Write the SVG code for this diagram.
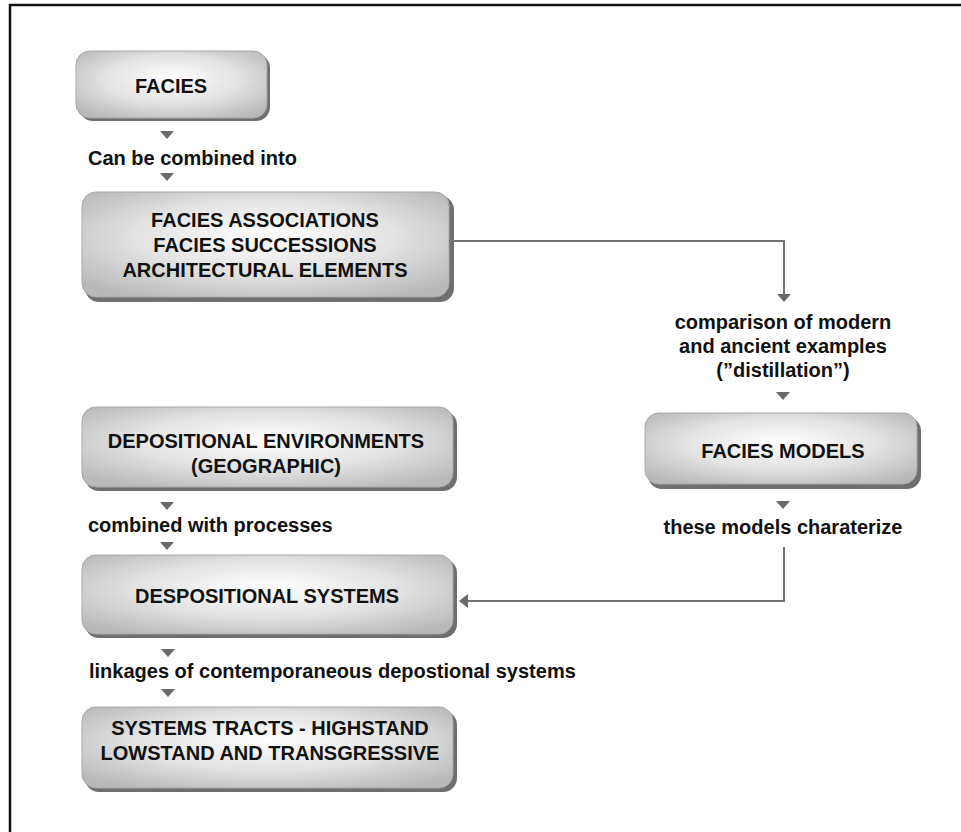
<svg xmlns="http://www.w3.org/2000/svg" width="961" height="832" viewBox="0 0 961 832">
<defs>
<radialGradient id="g" cx="50%" cy="45%" r="65%" fx="50%" fy="40%">
<stop offset="0" stop-color="#ffffff"/>
<stop offset="0.55" stop-color="#e2e2e2"/>
<stop offset="1" stop-color="#b9b9b9"/>
</radialGradient>
</defs>
<style>
.sh{fill:#6f6f6f}
.bx{fill:url(#g);stroke:#a8a8a8;stroke-width:1}
.t{font-family:"Liberation Sans",Arial,sans-serif;font-weight:bold;font-size:20px;fill:#111;text-anchor:middle}
.l{font-family:"Liberation Sans",Arial,sans-serif;font-weight:bold;font-size:20px;fill:#111}
.tri{fill:#6a6a6a}
.c{fill:none;stroke:#737373;stroke-width:2}
</style>
<rect width="961" height="832" fill="#fff"/>
<path d="M10,832 V5 H961" fill="none" stroke="#111" stroke-width="2.5"/>

<g id="n-facies">
<rect class="sh" x="79" y="54" width="191" height="67" rx="14"/>
<rect class="bx" x="76" y="51" width="191" height="67" rx="14"/>
<text class="t" x="171" y="93">FACIES</text>
</g>

<g id="n-associations">
<rect class="sh" x="85" y="196" width="369" height="106" rx="14"/>
<rect class="bx" x="82" y="192" width="367" height="105" rx="14"/>
<text class="t" x="265" y="227">FACIES ASSOCIATIONS</text>
<text class="t" x="265" y="252">FACIES SUCCESSIONS</text>
<text class="t" x="265" y="277">ARCHITECTURAL ELEMENTS</text>
</g>

<g id="n-models">
<rect class="sh" x="648" y="417" width="273" height="72" rx="14"/>
<rect class="bx" x="645" y="413" width="272" height="71" rx="14"/>
<text class="t" x="783" y="458">FACIES MODELS</text>
</g>

<g id="n-environments">
<rect class="sh" x="85" y="411" width="372" height="80" rx="14"/>
<rect class="bx" x="82" y="407" width="371" height="80" rx="14"/>
<text class="t" x="266" y="448">DEPOSITIONAL ENVIRONMENTS</text>
<text class="t" x="266" y="473">(GEOGRAPHIC)</text>
</g>

<g id="n-systems">
<rect class="sh" x="85" y="559" width="372" height="79" rx="14"/>
<rect class="bx" x="82" y="555" width="371" height="79" rx="14"/>
<text class="t" x="267" y="603">DESPOSITIONAL SYSTEMS</text>
</g>

<g id="n-tracts">
<rect class="sh" x="85" y="711" width="372" height="81" rx="14"/>
<rect class="bx" x="82" y="707" width="371" height="81" rx="14"/>
<text class="t" x="270" y="735">SYSTEMS TRACTS - HIGHSTAND</text>
<text class="t" x="270" y="760">LOWSTAND AND TRANSGRESSIVE</text>
</g>

<g id="connectors">
<path class="tri" d="M160,131 L174,131 L167,139 Z"/>
<text class="l" x="88" y="165">Can be combined into</text>
<path class="tri" d="M160,173 L174,173 L167,181 Z"/>

<path class="c" d="M449,241 H784 V294"/>
<path class="tri" d="M777,294 L791,294 L784,302 Z"/>
<text class="t" x="783" y="329">comparison of modern</text>
<text class="t" x="783" y="353">and ancient examples</text>
<text class="t" x="783" y="377">(”distillation”)</text>
<path class="tri" d="M776,392 L790,392 L783,400 Z"/>

<path class="tri" d="M776,501 L790,501 L783,509 Z"/>
<text class="t" x="783" y="534">these models charaterize</text>
<path class="c" d="M784,547 V601 H467"/>
<path class="tri" d="M459,601 L468,594 L468,608 Z"/>

<path class="tri" d="M160,502 L174,502 L167,510 Z"/>
<text class="l" x="88" y="532">combined with processes</text>
<path class="tri" d="M160,542 L174,542 L167,550 Z"/>

<path class="tri" d="M161,649 L175,649 L168,657 Z"/>
<text class="l" x="89" y="678">linkages of contemporaneous depostional systems</text>
<path class="tri" d="M161,689 L175,689 L168,697 Z"/>
</g>
</svg>
